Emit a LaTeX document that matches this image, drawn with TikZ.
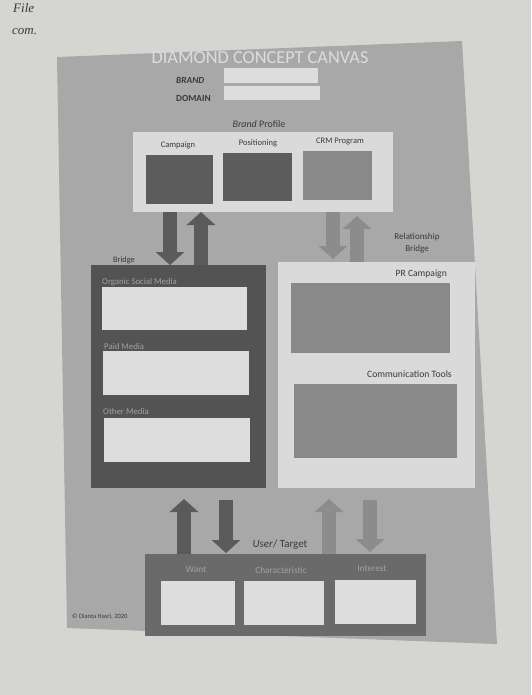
\documentclass[tikz,border=0pt]{standalone}
\usepackage{fontspec}
\setmainfont{Carlito}
\newfontfamily\pagefont{Liberation Serif}
\usetikzlibrary{arrows.meta}
\definecolor{pagebg}{HTML}{D5D5D2}
\definecolor{canvas}{HTML}{A8A8A8}
\definecolor{lightbox}{HTML}{DADADA}
\definecolor{darkbox}{HTML}{5C5C5C}
\definecolor{midbox}{HTML}{898989}
\definecolor{leftbox}{HTML}{535353}
\definecolor{botbox}{HTML}{6A6A6A}
\definecolor{whitebox}{HTML}{DDDDDD}
\definecolor{darkarrow}{HTML}{5A5A5A}
\definecolor{lightarrow}{HTML}{8C8C8C}
\definecolor{dimtext}{HTML}{A2A2A2}
\definecolor{inktext}{HTML}{3A3A3A}
\tikzset{
  rect/.style={inner sep=0pt, outer sep=0pt, anchor=north west},
  lbl/.style={inner sep=1pt, text=inktext, font=\fontsize{8.5}{10}\selectfont},
  dimlbl/.style={inner sep=1pt, text=dimtext, font=\fontsize{8.8}{10}\selectfont},
  bigarrow/.style={line width=14pt, -{Triangle[width=28pt,length=13pt]}},
}
\begin{document}
\begin{tikzpicture}[x=1pt,y=-1pt]
\useasboundingbox (0,0) rectangle (531,695);
\fill[pagebg] (0,0) rectangle (531,695);
% page text
\node[anchor=base west, inner sep=0, text=inktext, font=\pagefont\itshape\fontsize{13}{14}\selectfont] (pt1) at (13,13) {File};
\node[anchor=base west, inner sep=0, text=inktext, font=\pagefont\itshape\fontsize{13}{14}\selectfont] (pt2) at (12,35) {com.};
% canvas
\fill[canvas] (57,57) -- (462,41) -- (497,644) -- (67,628) -- cycle;
\node[text=whitebox, font=\fontsize{18.3}{20}\selectfont, inner sep=0] (title) at (260,58) {DIAMOND CONCEPT CANVAS};
\node[lbl, anchor=west, font=\bfseries\itshape\fontsize{9.3}{10}\selectfont] (brand) at (175,80) {BRAND};
\node[lbl, anchor=west, font=\bfseries\fontsize{9.3}{10}\selectfont] (domain) at (175,98) {DOMAIN};
\node[rect, fill=whitebox, minimum width=94pt, minimum height=15pt] (brandbox) at (224,68) {};
\node[rect, fill=whitebox, minimum width=96pt, minimum height=14pt] (domainbox) at (224,86) {};
% brand profile
\node[lbl, font=\fontsize{10}{11}\selectfont] (bptitle) at (259,124) {\textit{Brand} Profile};
\node[rect, fill=lightbox, minimum width=260pt, minimum height=80pt] (bp) at (133,132) {};
\node (lcamp) [lbl] at (178,145) {Campaign};
\node (lpos) [lbl] at (258,143) {Positioning};
\node (lcrm) [lbl] at (340,141) {CRM Program};
\node[rect, fill=darkbox, minimum width=67pt, minimum height=49pt] (camp) at (146,155) {};
\node[rect, fill=darkbox, minimum width=69pt, minimum height=48pt] (pos) at (223,153) {};
\node[rect, fill=midbox, minimum width=69pt, minimum height=49pt] (crm) at (303,151) {};
% left big box
\node[rect, fill=leftbox, minimum width=175pt, minimum height=223pt] (lbox) at (91,265) {};
\node[dimlbl, anchor=west] (losm) at (101,282) {Organic Social Media};
\node[rect, fill=whitebox, minimum width=145pt, minimum height=43pt] (osm) at (102,287) {};
\node[dimlbl, anchor=west] (lpaid) at (103,346) {Paid Media};
\node[rect, fill=whitebox, minimum width=146pt, minimum height=44pt] (paid) at (103,351) {};
\node[dimlbl, anchor=west] (lother) at (102,411) {Other Media};
\node[rect, fill=whitebox, minimum width=146pt, minimum height=44pt] (other) at (104,418) {};
% right big box
\node[rect, fill=lightbox, minimum width=197pt, minimum height=226pt] (rbox) at (278,262) {};
\node[lbl, anchor=east, font=\fontsize{9.6}{11}\selectfont] (lpr) at (448,274) {PR Campaign};
\node[rect, fill=midbox, minimum width=159pt, minimum height=70pt] (pr) at (291,283) {};
\node[lbl, anchor=east, font=\fontsize{9.7}{11}\selectfont] (lcomm) at (453,374) {Communication Tools};
\node[rect, fill=midbox, minimum width=163pt, minimum height=74pt] (comm) at (294,384) {};
% bridge labels
\node[lbl, font=\fontsize{8.3}{9}\selectfont] (lbridge) at (124,260) {Bridge};
\node[lbl, font=\fontsize{9}{11.5}\selectfont, align=center] (lrbridge) at (417,243) {Relationship\\Bridge};
% bottom box
\node[lbl, font=\fontsize{11}{12}\selectfont] (lut) at (280,545) {\textit{User}/ Target};
\node[rect, fill=botbox, minimum width=281pt, minimum height=82pt] (bot) at (145,554) {};
\node[dimlbl, font=\fontsize{9.3}{10}\selectfont] (lwant) at (196,570) {Want};
\node[dimlbl, font=\fontsize{9.3}{10}\selectfont] (lchar) at (281,570) {Characteristic};
\node[dimlbl, font=\fontsize{9.3}{10}\selectfont] (lint) at (372,569) {Interest};
\node[rect, fill=whitebox, minimum width=74pt, minimum height=44pt] (want) at (161,581) {};
\node[rect, fill=whitebox, minimum width=80pt, minimum height=44pt] (char) at (244,581) {};
\node[rect, fill=whitebox, minimum width=81pt, minimum height=44pt] (int) at (335,580) {};
\node[lbl, anchor=west, font=\fontsize{6.5}{7}\selectfont] (copy) at (71,617) {\copyright{} Dianta Hasri, 2020};
% arrows top
\draw[bigarrow, darkarrow] (170,0 |- bp.south) -- (170,0 |- lbox.north);
\draw[bigarrow, darkarrow] (201,0 |- lbox.north) -- (201,0 |- bp.south);
\draw[bigarrow, lightarrow, shorten >=3pt] (333,0 |- bp.south) -- (333,0 |- rbox.north);
\draw[bigarrow, lightarrow, shorten >=4pt] (357,0 |- rbox.north) -- (357,0 |- bp.south);
% arrows bottom
\draw[bigarrow, darkarrow, shorten >=11pt] (184,0 |- bot.north) -- (184,0 |- lbox.south);
\draw[bigarrow, darkarrow, shorten <=12pt, shorten >=1pt] (226,0 |- lbox.south) -- (226,0 |- bot.north);
\draw[bigarrow, lightarrow, shorten >=11pt] (329,0 |- bot.north) -- (329,0 |- rbox.south);
\draw[bigarrow, lightarrow, shorten <=12pt, shorten >=2pt] (370,0 |- rbox.south) -- (370,0 |- bot.north);
\end{tikzpicture}
\end{document}
